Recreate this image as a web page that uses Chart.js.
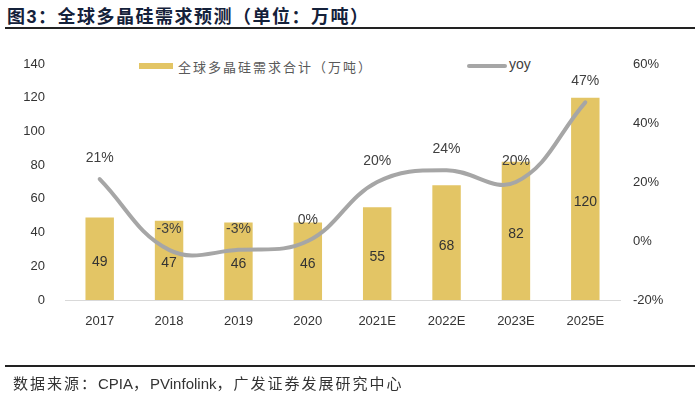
<!DOCTYPE html>
<html>
<head>
<meta charset="utf-8">
<script src="https://cdn.jsdelivr.net/npm/chart.js@4.4.0/dist/chart.umd.min.js"></script>
<style>
  body { margin: 0; background: #fff; }
  #wrap { position: relative; width: 700px; height: 398px; overflow: hidden; }
  #chart { position: absolute; left: 0; top: 0; }
  .title { position: absolute; left: 7px; top: 2px; font: bold 18px "Noto Sans CJK SC", sans-serif; color: #14213a; letter-spacing: 1.5px; }
  .rule { position: absolute; left: 5px; right: 5px; background: #222; }
  .foot { position: absolute; left: 13px; top: 372px; font: 15px "Noto Sans CJK SC", sans-serif; color: #333; }
  .foot .cj { letter-spacing: 2px; }
  .foot .en { font-family: "Liberation Sans", Arial, sans-serif; }
  .lg { position: absolute; top: 57px; font: 13px "Noto Sans CJK SC", sans-serif; color: #595959; letter-spacing: 2px; }
  .sw { position: absolute; }
</style>
</head>
<body>
<div id="wrap">
  <div class="title">图<span style="font-family:'Liberation Sans',Arial">3</span>：全球多晶硅需求预测（单位：万吨）</div>
  <div class="rule" style="top:27px;height:2px"></div>
  <div class="sw" style="left:139px;top:63px;width:34px;height:6px;background:#E3C565"></div>
  <div class="lg" style="left:178px">全球多晶硅需求合计（万吨）</div>
  <div class="sw" style="left:467px;top:64px;width:40px;height:4px;background:#A6A6A6;border-radius:2px"></div>
  <div class="lg" style="left:509px;font-family:'Liberation Sans',Arial;font-size:14px;color:#404040;top:56px;letter-spacing:0">yoy</div>
  <canvas id="chart" width="700" height="398"></canvas>
  <div class="rule" style="top:365px;height:2px"></div>
  <div class="foot"><span class="cj">数据来源：</span><span class="en">CPIA</span><span class="cj">，</span><span class="en">PVinfolink</span><span class="cj">，广发证券发展研究中心</span></div>
</div>
<script>
// data
const years = ['2017', '2018', '2019', '2020', '2021E', '2022E', '2023E', '2025E'];
const demand = [49, 47, 46, 46, 55, 68, 82, 120];
const yoy = [21, -3, -3, 0, 20, 24, 20, 47];
const leftTicks = [0, 20, 40, 60, 80, 100, 120, 140];
const rightTicks = [-20, 0, 20, 40, 60];

const tickFont = { family: '"Liberation Sans", Arial, sans-serif', size: 13 };

// value labels on bars and line
const valueLabels = {
    id: 'valueLabels',
    afterDatasetsDraw(chart) {
        const ctx = chart.ctx;
        ctx.save();
        ctx.font = '14px "Liberation Sans", Arial, sans-serif';
        ctx.textAlign = 'center';
        ctx.textBaseline = 'middle';
        const bars = chart.getDatasetMeta(0).data;
        bars.forEach((bar, i) => {
            ctx.fillStyle = '#333';
            ctx.fillText(demand[i], bar.x, (bar.y + bar.base) / 2 + 3);
        });
        const pts = chart.getDatasetMeta(1).data;
        pts.forEach((p, i) => {
            ctx.fillStyle = '#404040';
            ctx.fillText(yoy[i] + '%', p.x, p.y - 21);
        });
        ctx.restore();
    }
};

new Chart(document.getElementById('chart'), {
    data: {
        labels: years,
        datasets: [{
            type: 'bar',
            data: demand,
            yAxisID: 'y',
            backgroundColor: '#E3C565',
            barPercentage: 0.41,
            categoryPercentage: 1,
            order: 1
        }, {
            type: 'line',
            data: yoy,
            yAxisID: 'y1',
            borderColor: '#A6A6A6',
            borderWidth: 4,
            tension: 0.4,
            pointRadius: 0,
            borderCapStyle: 'round',
            order: 0
        }]
    },
    options: {
        responsive: false,
        animation: false,
        layout: { padding: { top: 64, bottom: 58, left: 0, right: 0 } },
        plugins: { legend: { display: false }, tooltip: { enabled: false } },
        scales: {
            x: {
                grid: { display: false, drawTicks: false },
                border: { display: true, color: '#d9d9d9', width: 1 },
                ticks: { font: tickFont, color: '#333', padding: 14, maxRotation: 0 },
                afterFit: s => { s.height = 40; }
            },
            y: {
                position: 'left',
                min: 0, max: 140,
                afterBuildTicks: s => { s.ticks = leftTicks.map(v => ({ value: v })); },
                grid: { display: false },
                border: { display: false },
                ticks: { font: tickFont, color: '#333', padding: 12 },
                afterFit: s => { s.width = 65; }
            },
            y1: {
                position: 'right',
                min: -20, max: 60,
                afterBuildTicks: s => { s.ticks = rightTicks.map(v => ({ value: v })); },
                grid: { display: false },
                border: { display: false },
                ticks: { font: tickFont, color: '#333', padding: 5, callback: v => v + '%' },
                afterFit: s => { s.width = 80; }
            }
        }
    },
    plugins: [valueLabels]
});
</script>
</body>
</html>
